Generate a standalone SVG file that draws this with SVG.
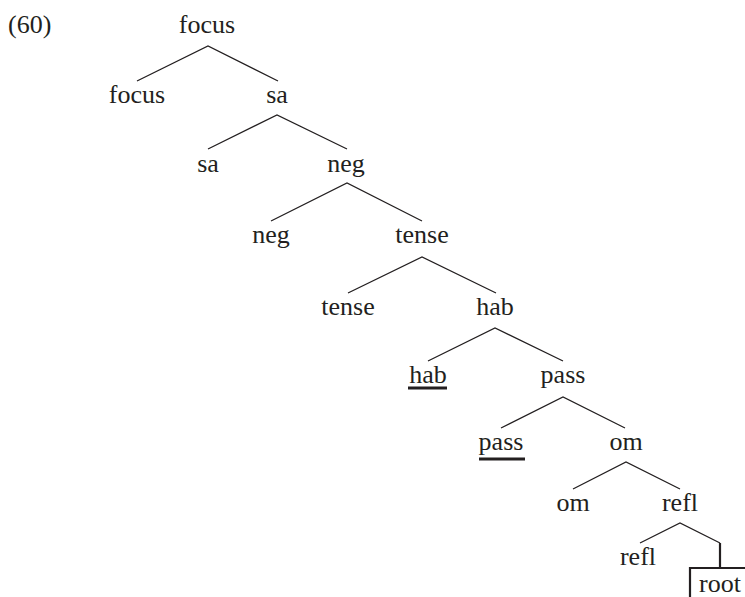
<svg xmlns="http://www.w3.org/2000/svg" width="745" height="597" viewBox="0 0 745 597">
<style>
text{font-family:'Liberation Serif','Times New Roman',Times,'DejaVu Serif',serif;font-size:26px;fill:#231f20;text-anchor:middle}
.e{stroke:#231f20;stroke-width:1.3;fill:none}
.t{stroke:#231f20;stroke-width:2.2;fill:none}
.u{stroke:#231f20;stroke-width:2.8}
</style>
<rect width="745" height="597" fill="#fff"/>
<g font-family="Liberation Serif, serif">
<text x="8" y="33" style="text-anchor:start">(60)</text>
<g id="connectors">
<path class="e" d="M137,81L208,46L278,81"/>
<path class="e" d="M208,149L277,115L347,149"/>
<path class="e" d="M271,221L347,183L422,221"/>
<path class="e" d="M348,293L422,257L496,293"/>
<path class="e" d="M428,361L495,328L563,361"/>
<path class="e" d="M501,428L563,397L625,428"/>
<path class="e" d="M573,489L626,462L680,489"/>
<path class="e" d="M640,543L680,523L720,543"/>
<path class="t" d="M720,543V568"/>
</g>
<g id="n-focus0"><text x="207" y="33">focus</text></g>
<g id="n-focus1"><text x="137" y="103">focus</text></g>
<g id="n-sa1"><text x="277" y="103">sa</text></g>
<g id="n-sa2"><text x="208" y="172">sa</text></g>
<g id="n-neg2"><text x="346" y="172">neg</text></g>
<g id="n-neg3"><text x="271" y="243">neg</text></g>
<g id="n-tense3"><text x="422" y="243">tense</text></g>
<g id="n-tense4"><text x="348" y="315">tense</text></g>
<g id="n-hab4"><text x="495" y="315">hab</text></g>
<g id="n-hab5"><text x="428" y="383">hab</text><line class="u" x1="408" y1="388" x2="447" y2="388"/></g>
<g id="n-pass5"><text x="563" y="383">pass</text></g>
<g id="n-pass6"><text x="501" y="450">pass</text><line class="u" x1="479" y1="459" x2="525" y2="459"/></g>
<g id="n-om6"><text x="626" y="450">om</text></g>
<g id="n-om7"><text x="573" y="511">om</text></g>
<g id="n-refl7"><text x="680" y="511">refl</text></g>
<g id="n-refl8"><text x="638" y="565">refl</text></g>
<g id="n-root"><path class="t" d="M690,597V568H746"/><text x="720" y="592">root</text></g>
</g>
</svg>
